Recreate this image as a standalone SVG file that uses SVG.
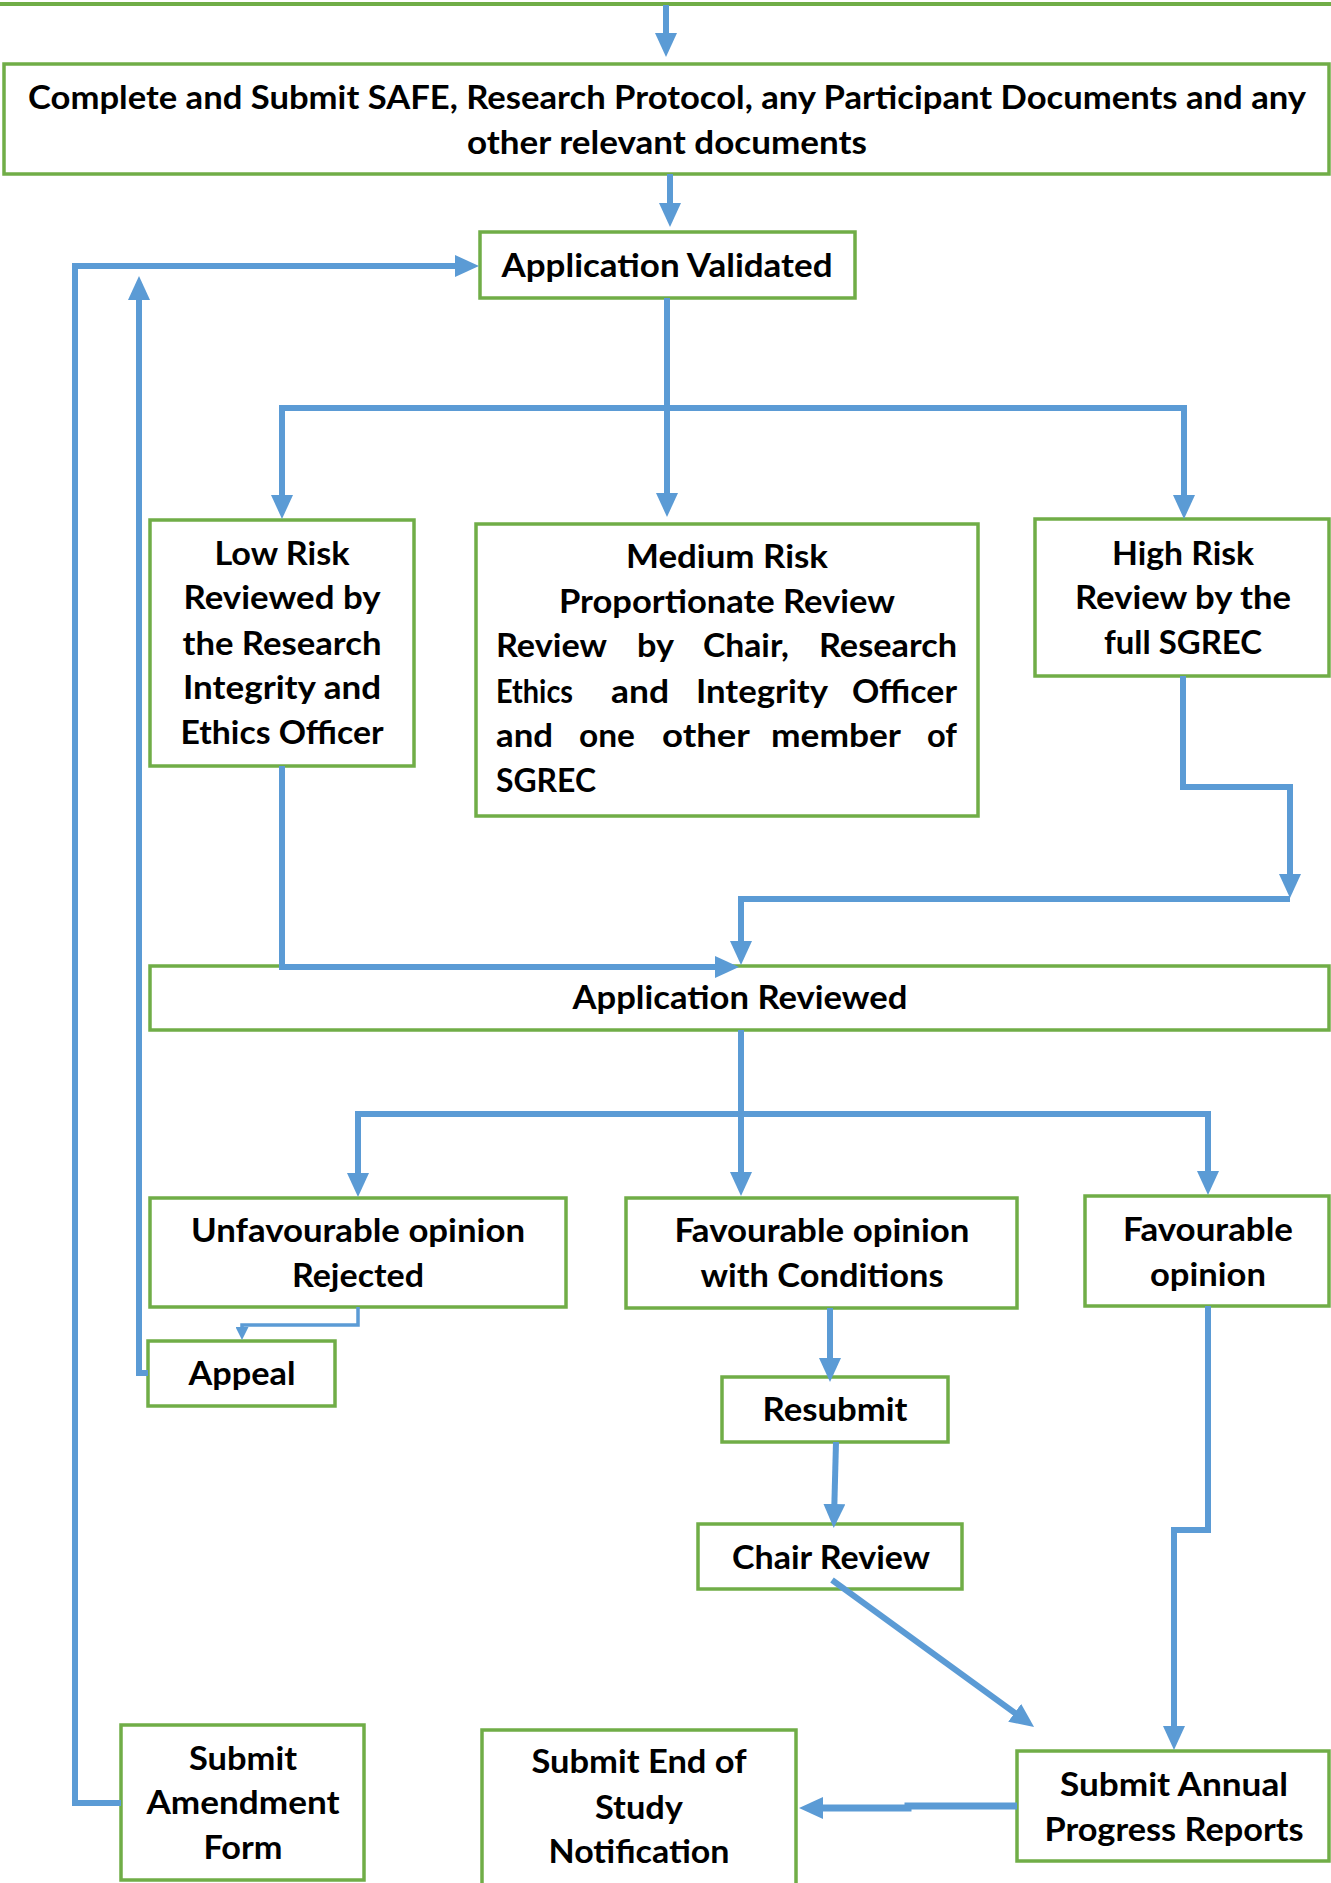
<svg xmlns="http://www.w3.org/2000/svg" width="1331" height="1883" viewBox="0 0 1331 1883">
<style>
.box{fill:#fff;stroke:#70AD47;stroke-width:3.5}
.t{font-family:Lato,"Open Sans","Liberation Sans",sans-serif;font-weight:700;font-size:33px;fill:#000;text-anchor:middle}
.l{text-anchor:start}
.c{fill:none;stroke:#5B9BD5;stroke-width:6;stroke-linejoin:miter}
.thin{fill:none;stroke:#5B9BD5;stroke-width:3.5}
</style>
<defs>
<marker id="ah" markerUnits="userSpaceOnUse" markerWidth="24" markerHeight="22" refX="14" refY="11" orient="auto"><path d="M0,0 L24,11 L0,22 z" fill="#5B9BD5"/></marker>
<marker id="ahs" markerUnits="userSpaceOnUse" markerWidth="13" markerHeight="13" refX="7" refY="6.5" orient="auto"><path d="M0,0 L13,6.5 L0,13 z" fill="#5B9BD5"/></marker>
</defs>
<rect width="1331" height="1883" fill="#fff"/>
<line x1="0" y1="4" x2="1331" y2="4" stroke="#70AD47" stroke-width="4"/>

<g id="n_submit">
<rect class="box" x="4" y="64" width="1325" height="110"/>
<text class="t" x="667" y="109" textLength="1278" lengthAdjust="spacingAndGlyphs">Complete and Submit SAFE, Research Protocol, any Participant Documents and any</text>
<text class="t" x="667" y="154" textLength="400" lengthAdjust="spacingAndGlyphs">other relevant documents</text>
</g>
<g id="n_validated">
<rect class="box" x="480" y="232" width="375" height="66"/>
<text class="t" x="667" y="277" textLength="331" lengthAdjust="spacingAndGlyphs">Application Validated</text>
</g>
<g id="n_low">
<rect class="box" x="150" y="520" width="264" height="246"/>
<text class="t" x="282" y="565" textLength="135" lengthAdjust="spacingAndGlyphs">Low Risk</text>
<text class="t" x="282" y="609" textLength="197" lengthAdjust="spacingAndGlyphs">Reviewed by</text>
<text class="t" x="282" y="655" textLength="199" lengthAdjust="spacingAndGlyphs">the Research</text>
<text class="t" x="282" y="699" textLength="198" lengthAdjust="spacingAndGlyphs">Integrity and</text>
<text class="t" x="282" y="744" textLength="203" lengthAdjust="spacingAndGlyphs">Ethics Officer</text>
</g>
<g id="n_medium">
<rect class="box" x="476" y="524" width="502" height="292"/>
<text class="t" x="727" y="568" textLength="202" lengthAdjust="spacingAndGlyphs">Medium Risk</text>
<text class="t" x="727" y="613" textLength="336" lengthAdjust="spacingAndGlyphs">Proportionate Review</text>
<text class="t l" x="496" y="657" textLength="111" lengthAdjust="spacingAndGlyphs">Review</text>
<text class="t l" x="637" y="657" textLength="37" lengthAdjust="spacingAndGlyphs">by</text>
<text class="t l" x="703" y="657" textLength="86" lengthAdjust="spacingAndGlyphs">Chair,</text>
<text class="t l" x="819" y="657" textLength="138" lengthAdjust="spacingAndGlyphs">Research</text>
<text class="t l" x="496" y="703" textLength="77" lengthAdjust="spacingAndGlyphs">Ethics</text>
<text class="t l" x="611" y="703" textLength="58" lengthAdjust="spacingAndGlyphs">and</text>
<text class="t l" x="696" y="703" textLength="132" lengthAdjust="spacingAndGlyphs">Integrity</text>
<text class="t l" x="852" y="703" textLength="105" lengthAdjust="spacingAndGlyphs">Officer</text>
<text class="t l" x="496" y="747" textLength="57" lengthAdjust="spacingAndGlyphs">and</text>
<text class="t l" x="579" y="747" textLength="56" lengthAdjust="spacingAndGlyphs">one</text>
<text class="t l" x="662" y="747" textLength="88" lengthAdjust="spacingAndGlyphs">other</text>
<text class="t l" x="771" y="747" textLength="130" lengthAdjust="spacingAndGlyphs">member</text>
<text class="t l" x="927" y="747" textLength="30" lengthAdjust="spacingAndGlyphs">of</text>
<text class="t l" x="496" y="792" textLength="100" lengthAdjust="spacingAndGlyphs">SGREC</text>
</g>
<g id="n_high">
<rect class="box" x="1035" y="519" width="294" height="157"/>
<text class="t" x="1183" y="565" textLength="142" lengthAdjust="spacingAndGlyphs">High Risk</text>
<text class="t" x="1183" y="609" textLength="216" lengthAdjust="spacingAndGlyphs">Review by the</text>
<text class="t" x="1183" y="654" textLength="158" lengthAdjust="spacingAndGlyphs">full SGREC</text>
</g>
<g id="n_reviewed">
<rect class="box" x="150" y="966" width="1179" height="64"/>
<text class="t" x="740" y="1009" textLength="335" lengthAdjust="spacingAndGlyphs">Application Reviewed</text>
</g>
<g id="n_unfav">
<rect class="box" x="150" y="1198" width="416" height="109"/>
<text class="t" x="358" y="1242" textLength="334" lengthAdjust="spacingAndGlyphs">Unfavourable opinion</text>
<text class="t" x="358" y="1287" textLength="132" lengthAdjust="spacingAndGlyphs">Rejected</text>
</g>
<g id="n_favcond">
<rect class="box" x="626" y="1198" width="391" height="110"/>
<text class="t" x="822" y="1242" textLength="295" lengthAdjust="spacingAndGlyphs">Favourable opinion</text>
<text class="t" x="822" y="1287" textLength="243" lengthAdjust="spacingAndGlyphs">with Conditions</text>
</g>
<g id="n_fav">
<rect class="box" x="1085" y="1196" width="244" height="110"/>
<text class="t" x="1208" y="1241" textLength="170" lengthAdjust="spacingAndGlyphs">Favourable</text>
<text class="t" x="1208" y="1286" textLength="116" lengthAdjust="spacingAndGlyphs">opinion</text>
</g>
<g id="n_appeal">
<rect class="box" x="148" y="1341" width="187" height="65"/>
<text class="t" x="242" y="1385" textLength="107" lengthAdjust="spacingAndGlyphs">Appeal</text>
</g>
<g id="n_resubmit">
<rect class="box" x="722" y="1377" width="226" height="65"/>
<text class="t" x="835" y="1421" textLength="145" lengthAdjust="spacingAndGlyphs">Resubmit</text>
</g>
<g id="n_chair">
<rect class="box" x="698" y="1524" width="264" height="65"/>
<text class="t" x="831" y="1569" textLength="198" lengthAdjust="spacingAndGlyphs">Chair Review</text>
</g>
<g id="n_amend">
<rect class="box" x="121" y="1725" width="243" height="155"/>
<text class="t" x="243" y="1770" textLength="108" lengthAdjust="spacingAndGlyphs">Submit</text>
<text class="t" x="243" y="1814" textLength="193" lengthAdjust="spacingAndGlyphs">Amendment</text>
<text class="t" x="243" y="1859" textLength="79" lengthAdjust="spacingAndGlyphs">Form</text>
</g>
<g id="n_end">
<rect class="box" x="482" y="1730" width="314" height="160"/>
<text class="t" x="639" y="1773" textLength="215" lengthAdjust="spacingAndGlyphs">Submit End of</text>
<text class="t" x="639" y="1819" textLength="88" lengthAdjust="spacingAndGlyphs">Study</text>
<text class="t" x="639" y="1863" textLength="181" lengthAdjust="spacingAndGlyphs">Notification</text>
</g>
<g id="n_annual">
<rect class="box" x="1017" y="1751" width="312" height="110"/>
<text class="t" x="1174" y="1796" textLength="228" lengthAdjust="spacingAndGlyphs">Submit Annual</text>
<text class="t" x="1174" y="1841" textLength="259" lengthAdjust="spacingAndGlyphs">Progress Reports</text>
</g>

<g id="connectors">
<path class="c" d="M666,5 V47" marker-end="url(#ah)"/>
<path class="c" d="M670,174 V217" marker-end="url(#ah)"/>
<path class="c" d="M667,298 V507" marker-end="url(#ah)"/>
<path class="c" d="M667,408 H282 V509" marker-end="url(#ah)"/>
<path class="c" d="M667,408 H1184 V509" marker-end="url(#ah)"/>
<path class="c" d="M282,766 V967 H729" marker-end="url(#ah)"/>
<path class="c" d="M1183,676 V787 H1290 V888" marker-end="url(#ah)"/>
<path class="c" d="M1290,899 H741 V955" marker-end="url(#ah)"/>
<path class="c" d="M741,1030 V1186" marker-end="url(#ah)"/>
<path class="c" d="M741,1114 H358 V1187" marker-end="url(#ah)"/>
<path class="c" d="M741,1114 H1208 V1185" marker-end="url(#ah)"/>
<path class="thin" d="M358,1307 V1325 H242 V1334" marker-end="url(#ahs)"/>
<path class="c" d="M148,1373 H139 V286" marker-end="url(#ah)"/>
<path class="c" d="M121,1803 H75 V266 H469" marker-end="url(#ah)"/>
<path class="c" d="M830,1308 V1372" marker-end="url(#ah)"/>
<path class="c" d="M836,1442 L834,1518" marker-end="url(#ah)"/>
<path class="c" d="M832,1580 L1026,1721" marker-end="url(#ah)"/>
<path class="c" d="M1208,1306 V1530 H1174 V1740" marker-end="url(#ah)"/>
<path class="c" d="M1017,1806 H908 V1808 H809" style="stroke-width:7" marker-end="url(#ah)"/>
</g>
</svg>
